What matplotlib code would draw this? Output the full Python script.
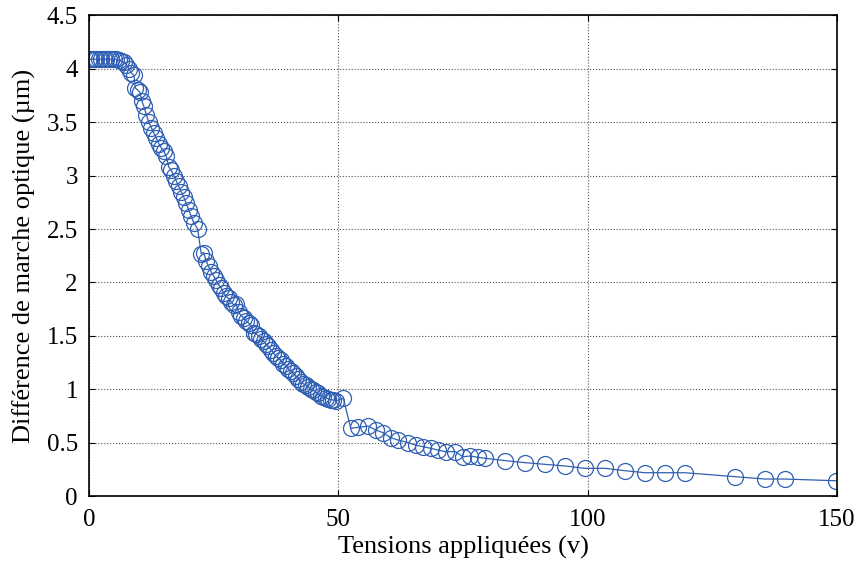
import numpy as np
import matplotlib.pyplot as plt

plt.rcParams['font.family'] = ['Liberation Serif', 'DejaVu Serif']

# Input data
tension = [0, 0.5, 1, 1.5, 2, 2.5, 3, 3.5, 4, 4.5, 5, 5.5, 6, 6.5, 7, 7.5,
           8, 8.5, 9, 9.3, 9.8, 10.2, 10.6, 11, 11.5, 12, 12.5, 13, 13.5, 14, 14.5,
           15, 15.5, 16, 16.5, 17, 17.5, 18, 18.5, 19, 19.5, 20, 20.5, 21,
           21.8, 22.5, 23, 23.5, 24, 24.5, 25, 25.5, 26, 26.5, 27, 27.5, 28, 28.5,
           29, 29.5, 30, 30.5, 31, 31.5, 32, 32.5, 33, 33.5, 34, 34.5, 35, 35.5,
           36, 36.5, 37, 37.5, 38, 38.5, 39, 39.5, 40, 40.5, 41, 41.5, 42, 42.5,
           43, 43.5, 44, 44.5, 45, 45.5, 46, 46.5, 47, 47.5, 48, 48.5, 49, 49.5,
           51, 52.5, 54, 56, 57.5, 59, 60.5, 62, 64, 65.5, 67, 68.5, 70, 71.5,
           73.5, 75, 76.5, 78, 79.5, 83.5, 87.5, 91.5, 95.5, 99.5, 103.5, 107.5,
           111.5, 115.5, 119.5, 129.5, 135.5, 139.5, 149.8]
difference = [4.09, 4.09, 4.09, 4.09, 4.09, 4.09, 4.09, 4.09, 4.09, 4.09, 4.09, 4.09, 4.08, 4.07, 4.06, 4.04,
              4.0, 3.96, 3.94, 3.82, 3.8, 3.78, 3.7, 3.65, 3.57, 3.5, 3.45, 3.4, 3.35, 3.3, 3.26,
              3.23, 3.18, 3.08, 3.05, 3.0, 2.95, 2.9, 2.85, 2.8, 2.74, 2.68, 2.62, 2.56,
              2.5, 2.27, 2.28, 2.2, 2.15, 2.1, 2.06, 2.02, 1.98, 1.95, 1.9, 1.87, 1.85, 1.82,
              1.79, 1.8, 1.72, 1.69, 1.67, 1.64, 1.62, 1.6, 1.53, 1.52, 1.5, 1.47, 1.45, 1.42,
              1.4, 1.37, 1.34, 1.31, 1.29, 1.27, 1.24, 1.22, 1.19, 1.17, 1.15, 1.12, 1.1, 1.07,
              1.05, 1.04, 1.02, 1.0, 0.99, 0.97, 0.96, 0.94, 0.93, 0.92, 0.91, 0.9, 0.9, 0.89,
              0.915, 0.634, 0.643, 0.655, 0.618, 0.593, 0.546, 0.524, 0.5, 0.477, 0.462, 0.447, 0.43, 0.415,
              0.415, 0.368, 0.375, 0.362, 0.353, 0.331, 0.312, 0.297, 0.281, 0.259, 0.259, 0.237,
              0.218, 0.218, 0.218, 0.181, 0.159, 0.159, 0.143]

fig = plt.figure(figsize=(8.58, 5.65), dpi=100)
ax = fig.add_axes([0.1037, 0.1221, 0.8718, 0.8506])

ax.plot(tension, difference, color='#2f5fb4', linewidth=0.9, marker='o',
        markersize=11.5, markerfacecolor='none', markeredgecolor='#2f5fb4',
        markeredgewidth=0.9)

ax.set_xlim(0, 150)
ax.set_ylim(0, 4.5)
ax.set_xticks([0, 50, 100, 150])
ax.set_yticks(np.arange(0, 4.51, 0.5))
ax.set_yticklabels(['0', '0.5', '1', '1.5', '2', '2.5', '3', '3.5', '4', '4.5'])
ax.grid(True, color='#555555', linestyle=':', linewidth=0.8)
ax.tick_params(direction='in', top=True, right=True, labelsize=18, length=4)
ax.tick_params(axis='x', pad=9)
ax.tick_params(axis='y', pad=8)
for s in ax.spines.values():
    s.set_linewidth(1.2)

ax.set_xlabel('Tensions appliquées (v)', fontsize=19, labelpad=4)
ax.set_ylabel('Différence de marche optique (µm)', fontsize=19, labelpad=8)

fig.savefig('out.png', dpi=100)
